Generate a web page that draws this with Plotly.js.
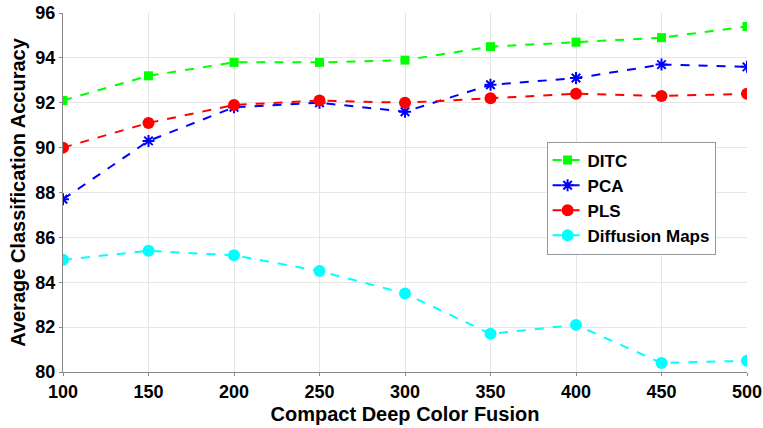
<!DOCTYPE html>
<html><head><meta charset="utf-8">
<script src="https://cdn.plot.ly/plotly-3.0.1.min.js"></script>
<style>html,body{margin:0;padding:0;background:#fff}#chart{width:763px;height:428px}</style>
</head><body><div id="chart"></div>
<script>
const xValues = [100, 150, 200, 250, 300, 350, 400, 450, 500];
const ditc = [92.1, 93.2, 93.8, 93.8, 93.9, 94.5, 94.7, 94.9, 95.4];
const pca = [87.7, 90.3, 91.8, 92.0, 91.6, 92.8, 93.1, 93.7, 93.6];
const pls = [90.0, 91.1, 91.9, 92.1, 92.0, 92.2, 92.4, 92.3, 92.4];
const diffusion = [85.0, 85.4, 85.2, 84.5, 83.5, 81.7, 82.1, 80.4, 80.5];
const seriesNames = ['DITC', 'PCA', 'PLS', 'Diffusion Maps'];
const xTicks = [100, 150, 200, 250, 300, 350, 400, 450, 500];
const yTicks = [80, 82, 84, 86, 88, 90, 92, 94, 96];

const mk = (y, name, color, symbol, size, lw) => ({
  x: xValues, y: y, name: name, type: 'scatter', mode: 'lines+markers',
  line: {color: color, width: 2, dash: 'dash'},
  marker: {color: color, symbol: symbol, size: size, line: {color: color, width: lw}}
});

const data = [
  mk(ditc, seriesNames[0], '#00ff00', 'square', 9, 0),
  mk(pca, seriesNames[1], '#0000ff', 'asterisk-open', 10, 2),
  mk(pls, seriesNames[2], '#ff0000', 'circle', 12, 0),
  mk(diffusion, seriesNames[3], '#00ffff', 'circle', 12, 0)
];

const fam = 'Liberation Sans, Arial, sans-serif';
const layout = {
  width: 763, height: 428,
  margin: {l: 63, r: 16, t: 13, b: 56},
  paper_bgcolor: '#fff', plot_bgcolor: '#fff',
  showlegend: true,
  xaxis: {
    range: [100, 500], tickvals: xTicks, ticktext: xTicks.map(String),
    showgrid: true, gridcolor: '#e6e6e6', gridwidth: 1,
    zeroline: false, showline: true, linecolor: '#888', linewidth: 1,
    ticks: 'outside', ticklen: 3, tickcolor: '#888',
    tickfont: {family: fam, size: 18, color: '#000', weight: 'bold'},
    title: {text: '<b>Compact Deep Color Fusion</b>', font: {family: fam, size: 20, color: '#000'}, standoff: 6},
    fixedrange: true
  },
  yaxis: {
    range: [80, 96], tickvals: yTicks, ticktext: yTicks.map(String),
    showgrid: true, gridcolor: '#e6e6e6', gridwidth: 1,
    zeroline: false, showline: true, linecolor: '#888', linewidth: 1,
    ticks: 'outside', ticklen: 3, tickcolor: '#888',
    tickfont: {family: fam, size: 18, color: '#000', weight: 'bold'},
    title: {text: '<b>Average Classification Accuracy</b>', font: {family: fam, size: 20, color: '#000'}, standoff: 4},
    fixedrange: true
  },
  legend: {
    x: 0.707, y: 0.642, xanchor: 'left', yanchor: 'top',
    bgcolor: '#fff', bordercolor: '#999', borderwidth: 1,
    font: {family: fam, size: 17, color: '#000', weight: 'bold'},
    tracegroupgap: 0, itemwidth: 30
  }
};
Plotly.newPlot('chart', data, layout, {displayModeBar: false, staticPlot: true});
</script>
</body></html>
